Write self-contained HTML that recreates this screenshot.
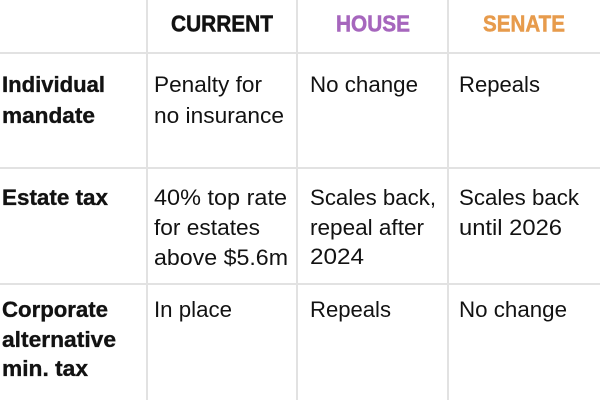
<!DOCTYPE html>
<html>
<head>
<meta charset="utf-8">
<style>
  html, body { margin: 0; padding: 0; background: #fff; }
  svg { display: block; }
  .b { font-family: "Liberation Sans", sans-serif; font-weight: bold; font-size: 22px; fill: #121212; stroke: #121212; stroke-width: 0.35px; }
  .h { font-family: "Liberation Sans", sans-serif; font-weight: bold; font-size: 23px; stroke-width: 0.5px; }
  .r { font-family: "Liberation Sans", sans-serif; font-weight: normal; font-size: 22px; fill: #121212; }
</style>
</head>
<body>
<svg width="600" height="400" viewBox="0 0 600 400" xmlns="http://www.w3.org/2000/svg">
  <rect x="0" y="0" width="600" height="400" fill="#ffffff"/>
  <!-- grid lines -->
  <g stroke="#e2e2e2" stroke-width="2">
    <line x1="0" y1="53" x2="600" y2="53"/>
    <line x1="0" y1="168" x2="600" y2="168"/>
    <line x1="0" y1="284" x2="600" y2="284"/>
    <line x1="147" y1="0" x2="147" y2="400"/>
    <line x1="297" y1="0" x2="297" y2="400"/>
    <line x1="448" y1="0" x2="448" y2="400"/>
  </g>

  <!-- headers -->
  <text class="h" x="222" y="31.5" text-anchor="middle" textLength="102" lengthAdjust="spacingAndGlyphs" style="fill:#121212;stroke:#121212">CURRENT</text>
  <text class="h" x="373" y="31.5" text-anchor="middle" textLength="74" lengthAdjust="spacingAndGlyphs" style="fill:#a666bd;stroke:#a666bd">HOUSE</text>
  <text class="h" x="524" y="31.5" text-anchor="middle" textLength="82" lengthAdjust="spacingAndGlyphs" style="fill:#e79b4c;stroke:#e79b4c">SENATE</text>

  <!-- row labels -->
  <text class="b" x="2" y="92" textLength="103" lengthAdjust="spacingAndGlyphs">Individual</text>
  <text class="b" x="2" y="123" textLength="93" lengthAdjust="spacingAndGlyphs">mandate</text>
  <text class="b" x="2" y="205" textLength="106" lengthAdjust="spacingAndGlyphs">Estate tax</text>
  <text class="b" x="2" y="317" textLength="106" lengthAdjust="spacingAndGlyphs">Corporate</text>
  <text class="b" x="2" y="347" textLength="114" lengthAdjust="spacingAndGlyphs">alternative</text>
  <text class="b" x="2" y="376" textLength="86" lengthAdjust="spacingAndGlyphs">min. tax</text>

  <!-- current column -->
  <text class="r" x="154" y="92" textLength="108" lengthAdjust="spacingAndGlyphs">Penalty for</text>
  <text class="r" x="154" y="123" textLength="130" lengthAdjust="spacingAndGlyphs">no insurance</text>
  <text class="r" x="154" y="205" textLength="133" lengthAdjust="spacingAndGlyphs">40% top rate</text>
  <text class="r" x="154" y="235" textLength="106" lengthAdjust="spacingAndGlyphs">for estates</text>
  <text class="r" x="154" y="265" textLength="134" lengthAdjust="spacingAndGlyphs">above $5.6m</text>
  <text class="r" x="154" y="317" textLength="78" lengthAdjust="spacingAndGlyphs">In place</text>

  <!-- house column -->
  <text class="r" x="310" y="92" textLength="108" lengthAdjust="spacingAndGlyphs">No change</text>
  <text class="r" x="310" y="205" textLength="126" lengthAdjust="spacingAndGlyphs">Scales back,</text>
  <text class="r" x="310" y="235" textLength="114" lengthAdjust="spacingAndGlyphs">repeal after</text>
  <text class="r" x="310" y="264" textLength="54" lengthAdjust="spacingAndGlyphs">2024</text>
  <text class="r" x="310" y="317" textLength="81" lengthAdjust="spacingAndGlyphs">Repeals</text>

  <!-- senate column -->
  <text class="r" x="459" y="92" textLength="81" lengthAdjust="spacingAndGlyphs">Repeals</text>
  <text class="r" x="459" y="205" textLength="120" lengthAdjust="spacingAndGlyphs">Scales back</text>
  <text class="r" x="459" y="235" textLength="103" lengthAdjust="spacingAndGlyphs">until 2026</text>
  <text class="r" x="459" y="317" textLength="108" lengthAdjust="spacingAndGlyphs">No change</text>
</svg>
</body>
</html>
